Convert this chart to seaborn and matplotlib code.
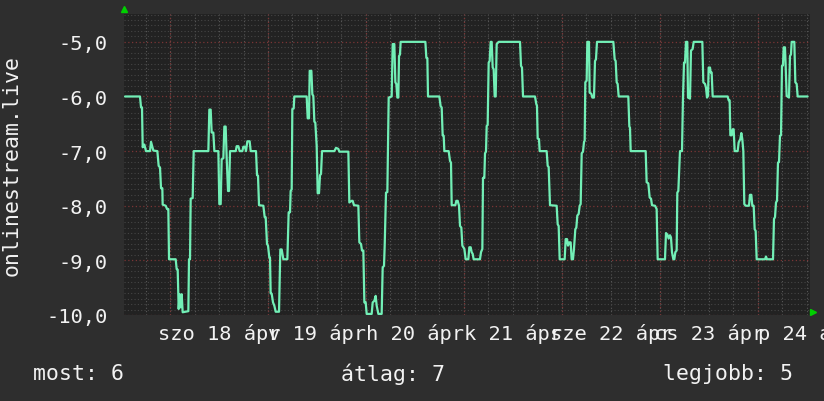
import matplotlib
matplotlib.use('Agg')
import matplotlib.pyplot as plt
from matplotlib.ticker import MultipleLocator
import seaborn as sns
import pandas as pd

# orak 2026-04-18 00:00-tol szamolva, es a mert ertek
hours = [
    -11.02, -7.35, -7.10, -6.86, -6.69, -6.29, -5.88, -4.90, -4.65, -4.33, -4.08, -3.10,
    -2.78, -2.45, -2.20, -1.88, -1.80, -1.06, -0.73, -0.41, -0.24, 1.39, 1.63, 1.88,
    2.12, 2.37, 2.61, 2.86, 3.10, 4.49, 4.65, 4.90, 5.06, 5.55, 5.80, 9.39,
    9.63, 9.96, 10.20, 10.61, 10.86, 11.84, 12.08, 12.41, 12.65, 13.06, 13.31, 13.63,
    13.88, 14.21, 14.45, 14.70, 16.10, 16.33, 16.74, 17.06, 17.72, 17.96, 18.37, 18.61,
    18.94, 19.51, 19.76, 21.06, 21.31, 21.55, 21.80, 22.86, 23.19, 23.43, 23.76, 24.00,
    24.33, 24.49, 24.65, 24.90, 25.23, 25.55, 25.88, 26.70, 27.02, 27.35, 27.76, 28.74,
    29.06, 29.39, 29.55, 29.80, 29.96, 30.29, 30.45, 33.47, 33.72, 34.04, 34.21, 34.62,
    34.86, 35.10, 35.35, 35.59, 35.92, 36.17, 36.49, 36.74, 36.98, 37.23, 40.25, 40.66,
    41.23, 41.47, 43.68, 43.92, 44.49, 44.74, 45.06, 46.13, 46.37, 46.78, 47.02, 47.35,
    47.60, 47.92, 48.17, 49.39, 49.64, 50.05, 50.37, 50.62, 51.03, 51.84, 52.09, 52.41,
    52.58, 52.90, 53.23, 53.56, 54.29, 54.54, 54.94, 55.19, 55.43, 55.68, 55.92, 56.09,
    56.33, 56.49, 62.54, 62.78, 63.03, 63.19, 65.96, 66.29, 66.54, 66.78, 67.03, 67.19,
    68.25, 68.58, 68.82, 68.99, 69.88, 70.13, 70.45, 70.78, 71.03, 71.35, 71.60, 72.09,
    72.41, 73.07, 73.31, 73.64, 73.88, 74.13, 74.37, 75.92, 76.17, 76.50, 76.66, 76.98,
    77.15, 77.39, 77.56, 77.80, 78.05, 78.29, 78.54, 78.78, 79.03, 79.27, 79.52, 79.76,
    80.01, 80.50, 85.72, 85.97, 86.21, 86.46, 89.39, 89.72, 89.88, 90.05, 90.37, 90.54,
    92.25, 92.50, 92.74, 93.07, 94.70, 94.95, 95.19, 95.44, 96.66, 96.91, 97.23, 97.48,
    97.80, 98.13, 98.37, 98.70, 98.94, 99.27, 99.52, 99.76, 100.09, 100.34, 100.58, 100.83,
    101.15, 101.40, 101.56, 101.72, 102.05, 102.21, 102.62, 102.78, 103.19, 103.44, 103.84, 104.09,
    104.33, 104.58, 108.58, 108.91, 109.15, 109.40, 109.64, 109.89, 112.25, 112.50, 112.66, 112.83,
    116.50, 116.74, 117.15, 117.48, 117.81, 118.05, 118.79, 119.19, 119.44, 121.23, 121.48, 121.89,
    122.13, 122.46, 122.70, 122.95, 123.28, 123.52, 123.77, 124.09, 124.25, 124.50, 124.91, 125.40,
    125.64, 125.89, 126.13, 126.38, 126.70, 126.87, 127.36, 127.60, 128.01, 128.26, 130.38, 130.62,
    131.03, 131.28, 131.52, 131.77, 131.93, 132.26, 132.42, 132.66, 132.91, 136.58, 136.83, 137.07,
    137.24, 137.56, 137.81, 138.05, 138.30, 139.03, 139.28, 139.68, 139.93, 140.17, 140.42, 140.66,
    140.99, 141.81, 142.05, 142.38, 142.62, 142.95, 143.20, 143.44, 143.69, 145.73, 145.97, 146.22,
    147.69, 147.93, 148.18, 148.42, 148.67, 148.91, 149.16, 149.40, 149.65, 149.89, 150.13, 150.30,
    150.62, 150.79, 151.03, 151.60, 151.85, 152.09, 152.26, 152.91, 153.16, 153.48, 153.73, 156.17,
]
values = [
    -6.0, -6.0, -6.2, -6.2, -6.93, -6.88, -7.0, -7.0, -6.83, -6.92, -6.99, -7.0,
    -7.27, -7.3, -7.68, -7.68, -7.98, -8.0, -8.06, -8.06, -8.98, -8.98, -9.16, -9.17,
    -9.89, -9.62, -9.86, -9.62, -9.95, -9.93, -8.98, -8.98, -7.87, -7.86, -7.0, -7.0,
    -6.24, -6.24, -6.66, -6.66, -7.0, -7.0, -7.97, -7.97, -7.15, -7.13, -6.55, -6.55,
    -7.13, -7.73, -7.73, -7.0, -7.0, -6.91, -6.91, -7.0, -7.0, -6.92, -6.92, -7.0,
    -6.82, -6.82, -7.0, -7.0, -7.44, -7.45, -7.99, -8.0, -8.21, -8.21, -8.70, -8.73,
    -8.95, -8.95, -9.60, -9.61, -9.77, -9.83, -9.94, -9.94, -8.80, -8.80, -8.98, -8.98,
    -8.12, -8.12, -7.73, -7.70, -6.23, -6.22, -6.0, -6.0, -6.40, -6.40, -5.53, -5.53,
    -5.96, -5.99, -6.46, -6.48, -6.90, -7.77, -7.77, -7.44, -7.42, -7.0, -7.0, -6.94,
    -6.96, -7.01, -7.01, -7.94, -7.91, -7.91, -7.99, -8.0, -8.67, -8.70, -8.82, -8.82,
    -9.77, -9.77, -9.98, -9.98, -9.77, -9.74, -9.65, -9.83, -9.98, -9.98, -9.13, -9.10,
    -8.73, -7.76, -7.75, -6.02, -6.0, -5.04, -5.04, -5.74, -5.77, -6.02, -6.02, -5.26,
    -5.23, -5.0, -5.0, -5.29, -5.30, -6.0, -6.0, -6.18, -6.20, -6.71, -6.72, -7.0,
    -7.0, -7.18, -7.21, -7.99, -7.99, -7.91, -7.91, -8.0, -8.37, -8.40, -8.73, -8.79,
    -8.98, -8.98, -8.76, -8.76, -8.85, -8.88, -8.98, -8.98, -8.85, -8.79, -7.49, -7.49,
    -7.04, -7.01, -6.54, -6.52, -5.38, -5.35, -5.0, -5.0, -5.47, -5.50, -6.0, -6.0,
    -5.04, -5.0, -5.0, -5.44, -5.47, -6.0, -6.0, -6.14, -6.17, -6.77, -6.78, -7.0,
    -7.0, -7.27, -7.29, -7.99, -8.0, -8.34, -8.37, -8.98, -8.98, -8.61, -8.61, -8.73,
    -8.67, -8.67, -8.98, -8.98, -8.79, -8.43, -8.40, -8.18, -8.15, -8.0, -7.97, -7.04,
    -7.01, -6.83, -6.81, -5.74, -5.71, -5.0, -5.0, -5.93, -5.95, -6.02, -6.02, -5.35,
    -5.32, -5.0, -5.0, -5.32, -5.35, -5.74, -5.77, -6.0, -6.0, -6.55, -6.57, -7.0,
    -7.0, -7.57, -7.59, -7.85, -7.87, -7.99, -8.0, -8.06, -8.98, -8.98, -8.50, -8.54,
    -8.60, -8.54, -8.58, -8.85, -8.98, -8.98, -8.85, -8.82, -7.76, -7.73, -7.0, -7.0,
    -6.02, -5.38, -5.38, -5.0, -5.0, -6.02, -6.04, -5.16, -5.13, -5.0, -5.0, -5.74,
    -5.77, -5.84, -6.02, -5.99, -5.47, -5.47, -5.56, -5.56, -6.0, -6.0, -6.07, -6.07,
    -6.71, -6.71, -6.60, -6.60, -7.0, -7.0, -6.84, -6.78, -6.67, -6.78, -7.0, -7.97,
    -8.0, -8.0, -7.80, -7.80, -8.0, -8.0, -8.43, -8.46, -8.98, -8.98, -8.93, -8.98,
    -8.98, -8.24, -8.21, -7.94, -7.91, -7.21, -7.20, -6.72, -6.71, -5.44, -5.43, -5.10,
    -5.10, -5.44, -5.99, -6.02, -5.26, -5.23, -5.0, -5.0, -5.74, -5.77, -6.0, -6.0,
]

y_ticks = [-10, -9, -8, -7, -6, -5]
y_labels = ['-10,0', '-9,0', '-8,0', '-7,0', '-6,0', '-5,0']
day_noons = [12, 36, 60, 84, 108, 132, 156]
day_labels = ['szo 18 ápr', 'v 19 ápr', 'h 20 ápr', 'k 21 ápr', 'sze 22 ápr', 'cs 23 ápr', 'p 24 ápr']
midnights = [0, 24, 48, 72, 96, 120, 144]
legend_texts = ['most: 6', 'átlag: 7', 'legjobb: 5']

BG = '#2e2e2e'
PLOT_BG = '#222222'
LINE = '#72efb6'
TEXT = '#f2f2f2'
GRID_MINOR = '#454545'
GRID_VERT = '#585858'
GRID_MAJOR = '#7a3535'

sns.set_style('dark', rc={'axes.facecolor': PLOT_BG, 'figure.facecolor': BG})
plt.rcParams['font.family'] = ['DejaVu Sans Mono']

df = pd.DataFrame({'ora': hours, 'ertek': values})

fig = plt.figure(figsize=(8.24, 4.02), dpi=100)
ax = fig.add_axes([124 / 824, 86 / 402, 686 / 824, 301 / 402])
sns.lineplot(data=df, x='ora', y='ertek', ax=ax, color=LINE, linewidth=1.6,
             sort=False, estimator=None, zorder=5)

ax.set_xlim(-11.27, 156.75)
ax.set_ylim(-10.0, -4.49)
ax.set_xlabel('')
ax.set_ylabel('')

# racs
ax.xaxis.remove_overlapping_locs = False
ax.yaxis.set_minor_locator(MultipleLocator(0.1))
ax.xaxis.set_minor_locator(MultipleLocator(6))
ax.set_yticks(y_ticks, y_labels)
ax.set_xticks(day_noons, day_labels)
dots = (0, (1, 2))
ax.yaxis.grid(True, which='minor', color=GRID_MINOR, linestyle=dots, linewidth=0.8)
ax.yaxis.grid(True, which='major', color=GRID_MAJOR, linestyle=dots, linewidth=0.9)
ax.xaxis.grid(True, which='minor', color=GRID_VERT, linestyle=dots, linewidth=0.8)
ax.xaxis.grid(False, which='major')
for m in midnights:
    ax.axvline(m, color=GRID_MAJOR, linestyle=dots, linewidth=0.9, zorder=1)

ax.tick_params(axis='both', which='major', length=0, labelsize=14.7, labelcolor=TEXT)
ax.tick_params(axis='y', which='major', pad=12)
ax.tick_params(axis='x', which='major', pad=6)
ax.tick_params(axis='x', which='minor', length=3, color=GRID_VERT, width=0.8)
ax.tick_params(axis='y', which='minor', length=0)
for s in ax.spines.values():
    s.set_visible(False)

# zold nyilak a tengelyek vegen
ax.plot([0], [1.017], marker='^', color='#00d000', markersize=4.5,
        transform=ax.transAxes, clip_on=False)
ax.plot([1.004], [0.01], marker='>', color='#00d000', markersize=4.5,
        transform=ax.transAxes, clip_on=False)

fig.text(12 / 824, 1 - 165 / 402, 'onlinestream.live', rotation=90,
         ha='center', va='center', fontsize=15.5, color=TEXT)
for txt, xp in zip(legend_texts, [33, 341, 663]):
    fig.text(xp / 824, 1 - 374 / 402, txt, ha='left', va='center',
             fontsize=15.5, color=TEXT)

fig.savefig('out.png', dpi=100, facecolor=BG)
